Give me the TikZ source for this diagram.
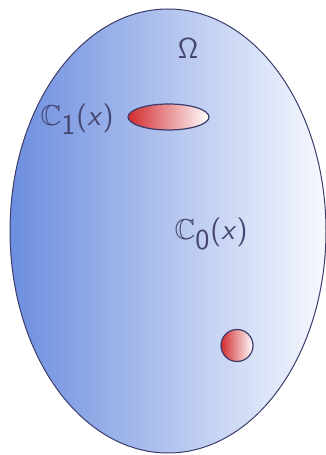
\documentclass[tikz,border=0pt]{standalone}
\usepackage{amssymb}
\usepackage{xcolor}
\usepackage{tikz}
\definecolor{omblue}{HTML}{6C8EDF}
\definecolor{omwhite}{HTML}{F7F9FE}
\definecolor{omred}{HTML}{D22A2E}
\definecolor{omline}{HTML}{3C3C6C}
\definecolor{omtext}{HTML}{44446E}

\tikzset{
  region/.style={draw=omline, line width=0.5pt, left color=omblue, right color=omwhite},
  blob/.style={draw=omline, line width=0.6pt, left color=omred, right color=white},
  lbl/.style={text=omtext, inner sep=0pt, font=\Large\sffamily}
}

\begin{document}
\begin{tikzpicture}[x=0.5pt, y=0.5pt]
  \useasboundingbox (0,0) rectangle (326,455);
  \path[region] (168,224) ellipse [x radius=158, y radius=222];
  \path[blob] (168.5,338) ellipse [x radius=40.5, y radius=13];
  \path[blob] (237,109.5) circle [radius=16];
  \node[lbl] (omega) at (188,406) {$\mathsf{\Omega}$};
  \node[lbl] (cone) at (77,336) {$\mathbb{C}_{\textsf{1}}$(\textit{x})};
  \node[lbl] (czero) at (211,221) {$\mathbb{C}_{\textsf{0}}$(\textit{x})};
\end{tikzpicture}
\end{document}
